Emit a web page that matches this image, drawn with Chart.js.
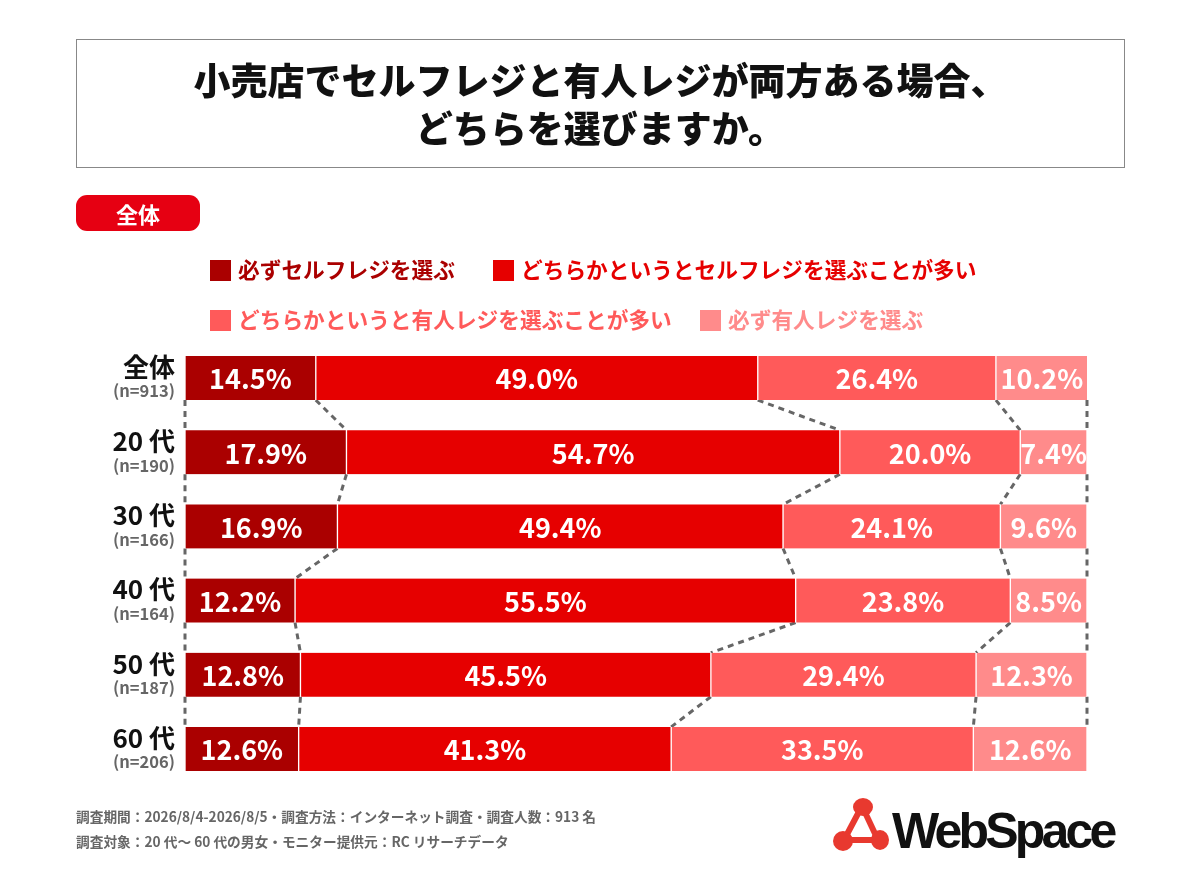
<!DOCTYPE html>
<html>
<head>
<meta charset="utf-8">
<script src="https://cdn.jsdelivr.net/npm/chart.js@4.4.1/dist/chart.umd.min.js"></script>
<style>
  body { margin: 0; background: #fff; font-family: "Noto Sans CJK JP", sans-serif; }
  #wrap { position: relative; width: 1200px; height: 884px; overflow: hidden; }
  #chart { position: absolute; left: 0; top: 0; }
  .titlebox { position: absolute; left: 76px; top: 39px; width: 1047px; height: 127px; border: 1px solid #888;
    text-align: center; font-weight: 900; font-size: 37px; line-height: 48px; color: #111; box-sizing: content-box; }
  .titlebox div { padding-top: 15px; }
  .pill { position: absolute; left: 76px; top: 195px; width: 124px; height: 36px; border-radius: 11px; background: #e60012;
    color: #fff; font-weight: 700; font-size: 22px; line-height: 36px; text-align: center; }
  .leg { position: absolute; font-weight: 700; font-size: 21.7px; line-height: 26px; white-space: nowrap; }
  .leg span.sq { display: inline-block; width: 21px; height: 21px; vertical-align: -3px; margin-right: 7px; }
  .foot { position: absolute; left: 76px; font-size: 13.7px; font-weight: 700; color: #666; white-space: nowrap; }
  .logo { position: absolute; left: 828px; top: 792px; }
</style>
</head>
<body>
<div id="wrap">
  <canvas id="chart" width="1200" height="884"></canvas>
  <div class="titlebox"><div>小売店でセルフレジと有人レジが両方ある場合、<br>どちらを選びますか。</div></div>
  <div class="pill">全体</div>
  <div id="legend"></div>
  <div class="foot" style="top:806px">調査期間：2026/8/4-2026/8/5・調査方法：インターネット調査・調査人数：913 名</div>
  <div class="foot" style="top:831px">調査対象：20 代～ 60 代の男女・モニター提供元：RC リサーチデータ</div>
  <svg class="logo" width="300" height="70" viewBox="0 0 300 70">
    <g stroke="#e8392f" stroke-width="6" fill="none">
      <line x1="34" y1="14" x2="16" y2="48"/>
      <line x1="34" y1="14" x2="50" y2="48"/>
      <line x1="16" y1="48" x2="50" y2="48"/>
    </g>
    <g fill="#e8392f">
      <ellipse cx="35" cy="15" rx="10" ry="9"/>
      <ellipse cx="15" cy="49" rx="10" ry="10"/>
      <ellipse cx="52" cy="48" rx="9" ry="10"/>
    </g>
    <text x="64" y="56" font-family="Liberation Sans, Arial, sans-serif" font-weight="700" font-size="50" letter-spacing="-3.8" fill="#111">WebSpace</text>
  </svg>
</div>
<script>
// categories and values
var categories = ['全体', '20 代', '30 代', '40 代', '50 代', '60 代'];
var sampleSizes = ['(n=913)', '(n=190)', '(n=166)', '(n=164)', '(n=187)', '(n=206)'];
var seriesNames = ['必ずセルフレジを選ぶ', 'どちらかというとセルフレジを選ぶことが多い', 'どちらかというと有人レジを選ぶことが多い', '必ず有人レジを選ぶ'];
var alwaysSelf = [14.5, 17.9, 16.9, 12.2, 12.8, 12.6];
var mostlySelf = [49.0, 54.7, 49.4, 55.5, 45.5, 41.3];
var mostlyStaffed = [26.4, 20.0, 24.1, 23.8, 29.4, 33.5];
var alwaysStaffed = [10.2, 7.4, 9.6, 8.5, 12.3, 12.6];
var colors = ['#aa0000', '#e60000', '#ff5a5a', '#ff8b8b'];

// legend in html, two rows
var legendPos = [[210, 256], [493, 256], [210, 306], [700, 306]];
var legendEl = document.getElementById('legend');
seriesNames.forEach(function (name, i) {
    var d = document.createElement('div');
    d.className = 'leg';
    d.style.left = legendPos[i][0] + 'px';
    d.style.top = legendPos[i][1] + 'px';
    d.style.color = colors[i];
    d.innerHTML = '<span class="sq" style="background:' + colors[i] + '"></span>' + name;
    legendEl.appendChild(d);
});

var allSeries = [alwaysSelf, mostlySelf, mostlyStaffed, alwaysStaffed];

var connectorPlugin = {
    id: 'connectors',
    beforeDatasetsDraw: function (chart) {
        var ctx = chart.ctx;
        var xs = chart.scales.x;
        var metas = [0, 1, 2, 3].map(function (i) { return chart.getDatasetMeta(i); });
        ctx.save();
        ctx.strokeStyle = '#666';
        ctx.lineWidth = 3;
        ctx.setLineDash([6, 5]);
        for (var j = 0; j < categories.length - 1; j++) {
            var a = metas[0].data[j], b = metas[0].data[j + 1];
            var yBottom = a.y + a.height / 2;
            var yTop = b.y - b.height / 2;
            var cumA = 0, cumB = 0;
            for (var k = 0; k <= 4; k++) {
                var xa = xs.getPixelForValue(Math.min(cumA, 100));
                var xb = xs.getPixelForValue(Math.min(cumB, 100));
                ctx.beginPath();
                ctx.moveTo(xa, yBottom);
                ctx.lineTo(xb, yTop);
                ctx.stroke();
                if (k < 4) { cumA += allSeries[k][j]; cumB += allSeries[k][j + 1]; }
            }
        }
        ctx.restore();
    }
};

var labelPlugin = {
    id: 'labels',
    afterDatasetsDraw: function (chart) {
        var ctx = chart.ctx;
        ctx.save();
        ctx.textAlign = 'center';
        ctx.textBaseline = 'middle';
        ctx.fillStyle = '#fff';
        ctx.font = '700 27px "Noto Sans CJK JP"';
        chart.data.datasets.forEach(function (ds, i) {
            chart.getDatasetMeta(i).data.forEach(function (bar, j) {
                var cx = (bar.x + bar.base) / 2;
                ctx.fillText(ds.data[j].toFixed(1) + '%', cx, bar.y + 1);
            });
        });
        // category labels
        var meta = chart.getDatasetMeta(0);
        ctx.textAlign = 'right';
        meta.data.forEach(function (bar, j) {
            ctx.fillStyle = '#111';
            ctx.font = '700 26px "Noto Sans CJK JP"';
            ctx.fillText(categories[j], 175, bar.y - 11);
            ctx.fillStyle = '#666';
            ctx.font = '700 16.5px "Noto Sans CJK JP"';
            ctx.fillText(sampleSizes[j], 175, bar.y + 13);
        });
        ctx.restore();
    }
};

var datasets = allSeries.map(function (vals, i) {
    return {
        label: seriesNames[i],
        data: vals,
        backgroundColor: colors[i],
        borderColor: '#fff',
        borderWidth: { left: 1, right: 1, top: 0, bottom: 0 },
        borderSkipped: false,
        barThickness: 44
    };
});

var myChart = new Chart(document.getElementById('chart'), {
    type: 'bar',
    data: { labels: categories, datasets: datasets },
    options: {
        indexAxis: 'y',
        responsive: false,
        animation: false,
        devicePixelRatio: 1,
        layout: { padding: { left: 185, right: 113, top: 341, bottom: 98 } },
        scales: {
            x: { stacked: true, min: 0, max: 100, display: false },
            y: { stacked: true, display: false }
        },
        plugins: {
            legend: { display: false },
            tooltip: { enabled: false }
        }
    },
    plugins: [connectorPlugin, labelPlugin]
});
</script>
</body>
</html>
